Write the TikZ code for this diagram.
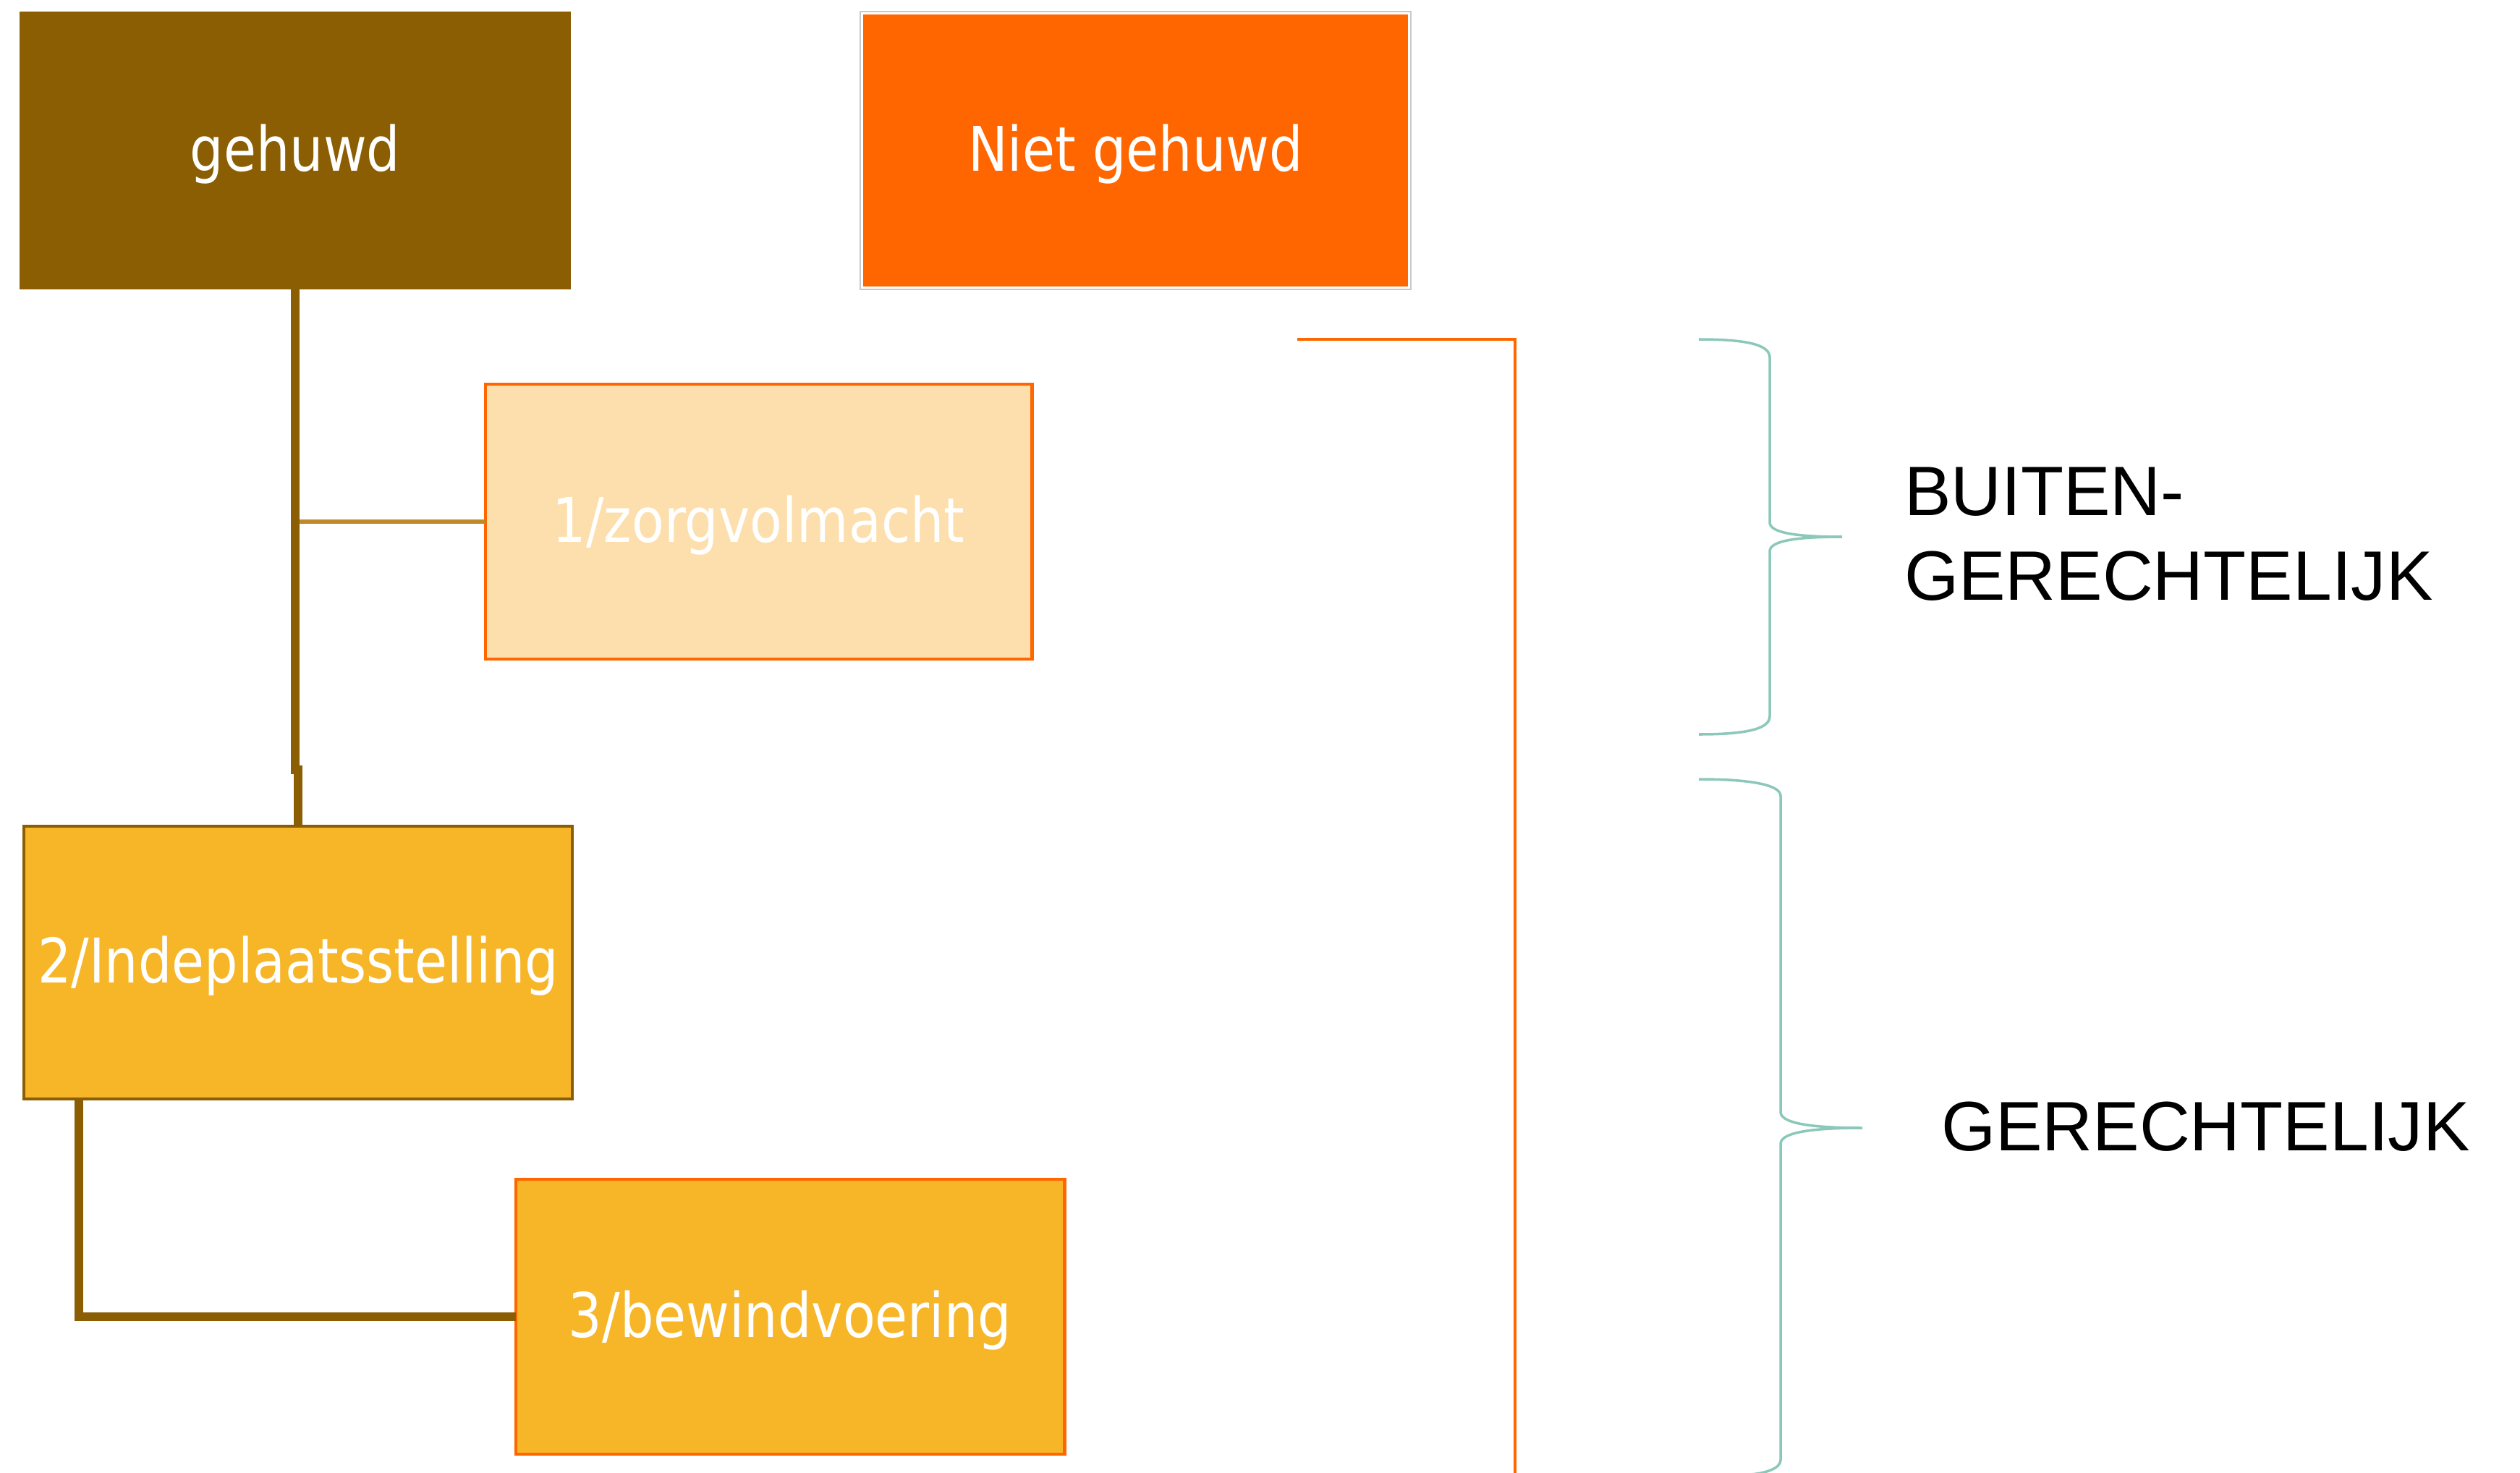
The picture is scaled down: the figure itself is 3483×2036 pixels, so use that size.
\documentclass[tikz,border=0pt]{standalone}
\usepackage{fontspec}
\setmainfont{Liberation Sans}
\newfontfamily\boxfont[FakeStretch=0.86]{DejaVu Sans}
\usetikzlibrary{calc}
\definecolor{brownbox}{HTML}{8B5E03}
\definecolor{orangebox}{HTML}{FF6600}
\definecolor{peachbox}{HTML}{FCDFAD}
\definecolor{amberbox}{HTML}{F7B528}
\definecolor{branchcol}{HTML}{BF8A2A}
\definecolor{bracecol}{HTML}{8CC8B9}
\definecolor{framegray}{HTML}{C8C8C8}
\begin{document}
\begin{tikzpicture}[x=0.01cm,y=-0.01cm,
  box/.style={inner sep=0pt, outer sep=0pt, text=white,
    text height=0.60cm, text depth=0.04cm,
    font=\boxfont\fontsize{24.2}{29}\selectfont},
  label/.style={inner sep=0pt, outer sep=0pt, anchor=base west, align=left,
    font=\fontsize{27.5}{33}\selectfont, text=black},
  trunk/.style={draw=brownbox, line width=3.4pt},
  branch/.style={draw=branchcol, line width=1.5pt},
  orangeline/.style={draw=orangebox, line width=1pt},
  bracestyle/.style={draw=bracecol, line width=1pt}]
\useasboundingbox (0,0) rectangle (3483,2036);
\clip (0,0) rectangle (3483,2036);

% boxes
\node[box, fill=brownbox, minimum width=7.62cm, minimum height=3.84cm] (gehuwd) at (408,208) {gehuwd};
\node[box, fill=orangebox, minimum width=7.53cm, minimum height=3.76cm] (niet) at (1569.5,208) {Niet gehuwd};
\draw[framegray, line width=0.5pt] ($(niet.south west)+(-4,4)$) rectangle ($(niet.north east)+(4,-4)$);
\node[box, fill=peachbox, draw=orangebox, line width=1.3pt, minimum width=7.55cm, minimum height=3.80cm] (box1) at (1048.5,721) {1/zorgvolmacht};
\node[box, fill=amberbox, draw=brownbox, line width=1pt, minimum width=7.58cm, minimum height=3.77cm] (box2) at (412,1330.5) {2/Indeplaatsstelling};
\node[box, fill=amberbox, draw=orangebox, line width=1.3pt, minimum width=7.58cm, minimum height=3.80cm] (box3) at (1092,1820) {3/bewindvoering};

% connectors
\coordinate (jog) at (408,1064);
\draw[branch] (gehuwd.south |- box1.west) -- (box1.west);
\draw[trunk] (gehuwd.south) -- (jog) -| (box2.north);
\draw[trunk] ([xshift=0.76cm]box2.south west) |- (box3.west);

% orange bracket line
\coordinate (o1) at (1793,469);
\coordinate (o2) at (2094,469);
\coordinate (o3) at (2094,2050);
\draw[orangeline] (o1) -- (o2) -- (o3);

% braces
\draw[bracestyle] (2348,469) .. controls (2420,469) and (2446,478) .. (2446,494)
  -- (2446,722) .. controls (2446,736) and (2480,742) .. (2546,742)
  .. controls (2480,742) and (2446,748) .. (2446,762)
  -- (2446,990) .. controls (2446,1006) and (2420,1015) .. (2348,1015);
\draw[bracestyle] (2348,1077) .. controls (2425,1077) and (2461,1086) .. (2461,1100)
  -- (2461,1537) .. controls (2461,1552) and (2500,1559) .. (2574,1559)
  .. controls (2500,1559) and (2461,1566) .. (2461,1581)
  -- (2461,2018) .. controls (2461,2030) and (2440,2036) .. (2420,2038);

% labels
\node[label] (buiten) at (2632,829) {BUITEN-\\GERECHTELIJK};
\node[label] (gerecht) at (2683,1590) {GERECHTELIJK};
\end{tikzpicture}
\end{document}
